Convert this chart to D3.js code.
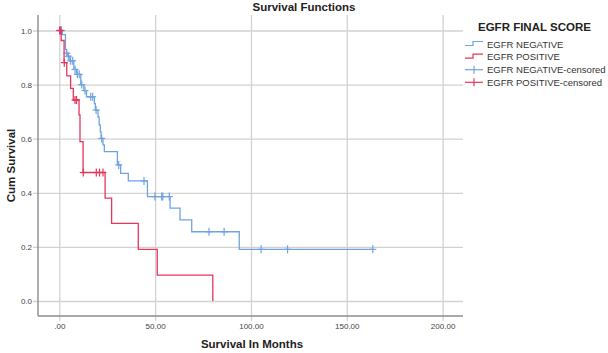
<!DOCTYPE html>
<meta charset="utf-8">
<style>
body { margin: 0; background: #fff; }
svg { display: block; font-family: "Liberation Sans", Arial, sans-serif; }
.axis text { font-size: 8px; fill: #444; }
.axis line { stroke: #d2d2d2; stroke-width: 1.3; }
.axis path { display: none; }
.frame { stroke: #8c8c8c; stroke-width: 1.4; }
.title { font-size: 11.5px; font-weight: bold; fill: #222; }
.legend text { font-size: 9.5px; fill: #333; }
.legend text.title { font-size: 11.5px; fill: #222; }
.curve { fill: none; stroke-width: 1.3; }
.cens { stroke-width: 1.2; }
</style>
<svg class="chart" width="608" height="353"></svg>
<script src="https://d3js.org/d3.v7.min.js"></script>
<script>

// EGFR NEGATIVE: times of each drop (months) and survival after it
var negTimes = [1.6, 3.2, 3.7, 4.3, 5.5, 7.6, 9.0, 11.2, 12.8, 14.2, 18.3, 18.8, 20.2, 20.8,
                21.4, 21.8, 22.8, 23.5, 30.3, 32.0, 36.0, 46.0, 57.8, 63.0, 69.1, 93.9];
var negSurv  = [0.985, 0.93, 0.916, 0.905, 0.888, 0.856, 0.838, 0.80, 0.778, 0.755, 0.73, 0.706, 0.68, 0.65,
                0.625, 0.601, 0.577, 0.552, 0.503, 0.472, 0.444, 0.386, 0.343, 0.30, 0.256, 0.191];
var negCensored = [0.3, 1.0, 3.9, 4.7, 5.9, 7.0, 8.2, 9.4, 10.4, 11.7, 13.4, 16.4, 17.4, 19.2, 22.1,
                   31.0, 44.2, 49.9, 53.4, 54.0, 57.4, 78.1, 86.0, 105.3, 119.1, 163.6];
var negEnd = 163.6;

// EGFR POSITIVE
var posTimes = [1.0, 2.5, 3.9, 5.9, 7.3, 10.3, 10.8, 12.4, 23.9, 27.3, 41.2, 51.1, 80.1];
var posSurv  = [0.963, 0.881, 0.832, 0.786, 0.743, 0.688, 0.589, 0.475, 0.38, 0.287, 0.191, 0.096, 0];
var posCensored = [0.2, 0.8, 2.6, 8.2, 9.0, 12.5, 19.3, 21.0, 22.8];
var posEnd = 80.1;

var xTicks = [0, 50, 100, 150, 200];
var yTicks = [0, 0.2, 0.4, 0.6, 0.8, 1.0];
var legendLabels = ["EGFR NEGATIVE", "EGFR POSITIVE", "EGFR NEGATIVE-censored", "EGFR POSITIVE-censored"];
var colors = {neg: "#6fa3e0", pos: "#e5365c"};

var box = {left: 38, right: 463, top: 15, bottom: 316};

var x = d3.scaleLinear().domain([0, 200]).range([59.3, 442.6]);
var y = d3.scaleLinear().domain([0, 1]).range([301, 30.5]);

var svg = d3.select(".chart");

// axes with grid lines
var gx = svg.append("g")
    .attr("class", "axis")
    .attr("transform", "translate(0," + box.bottom + ")")
    .call(d3.axisBottom(x).tickValues(xTicks).tickSize(-(box.bottom - box.top)).tickPadding(7)
      .tickFormat(function (d) { return d === 0 ? ".00" : d3.format(".2f")(d); }));
gx.selectAll(".tick line").attr("y1", 5);

var gy = svg.append("g")
    .attr("class", "axis")
    .attr("transform", "translate(" + box.left + ",0)")
    .call(d3.axisLeft(y).tickValues(yTicks).tickSize(-(box.right - box.left)).tickPadding(6)
      .tickFormat(d3.format(".1f")));
gy.selectAll(".tick line").attr("x1", -5);

svg.append("line").attr("class", "frame")
    .attr("x1", box.left).attr("x2", box.left).attr("y1", box.top).attr("y2", box.bottom);
svg.append("line").attr("class", "frame")
    .attr("x1", box.left).attr("x2", box.right).attr("y1", box.bottom).attr("y2", box.bottom);

function stepPoints(times, surv, end) {
  var pts = [[0, 1]];
  times.forEach(function (t, i) { pts.push([t, surv[i]]); });
  if (end > times[times.length - 1]) pts.push([end, surv[surv.length - 1]]);
  return pts;
}

function survAt(times, surv, t) {
  var s = 1;
  times.forEach(function (tt, i) { if (tt <= t) s = surv[i]; });
  return s;
}

var line = d3.line()
    .x(function (d) { return x(d[0]); })
    .y(function (d) { return y(d[1]); })
    .curve(d3.curveStepAfter);

var groups = [
  {times: negTimes, surv: negSurv, cens: negCensored, end: negEnd, color: colors.neg},
  {times: posTimes, surv: posSurv, cens: posCensored, end: posEnd, color: colors.pos}
];

groups.forEach(function (g) {
  svg.append("path")
      .attr("class", "curve")
      .attr("stroke", g.color)
      .attr("d", line(stepPoints(g.times, g.surv, g.end)));

  var c = svg.append("g").selectAll("g")
      .data(g.cens)
      .enter().append("g")
      .attr("class", "cens")
      .attr("stroke", g.color)
      .attr("transform", function (t) {
        return "translate(" + x(t) + "," + y(survAt(g.times, g.surv, t)) + ")";
      });
  c.append("line").attr("x1", -3.5).attr("x2", 3.5);
  c.append("line").attr("y1", -4).attr("y2", 4);
});

// titles
svg.append("text").attr("class", "title")
    .attr("x", 304).attr("y", 11)
    .attr("text-anchor", "middle")
    .text("Survival Functions");

svg.append("text").attr("class", "title")
    .attr("x", 252).attr("y", 348)
    .attr("text-anchor", "middle")
    .text("Survival In Months");

svg.append("text").attr("class", "title")
    .attr("transform", "translate(15," + (box.top + box.bottom) / 2 + ") rotate(-90)")
    .attr("text-anchor", "middle")
    .text("Cum Survival");

// legend
var legend = svg.append("g").attr("class", "legend");
legend.append("text").attr("class", "title")
    .attr("x", 478).attr("y", 30.5)
    .text("EGFR FINAL SCORE");

var item = legend.selectAll(".item")
    .data(legendLabels)
    .enter().append("g")
    .attr("class", "item")
    .attr("transform", function (d, i) { return "translate(0," + (44.5 + i * 12.6) + ")"; });

item.append("text")
    .attr("x", 487)
    .attr("dy", "0.35em")
    .text(function (d) { return d; });

item.each(function (d, i) {
  var g = d3.select(this);
  var col = i % 2 === 0 ? colors.neg : colors.pos;
  if (i < 2) {
    g.append("path")
        .attr("fill", "none").attr("stroke", col).attr("stroke-width", 1.2)
        .attr("d", "M465,1H473V-3H483");
  } else {
    g.append("line").attr("stroke", col).attr("stroke-width", 1.2)
        .attr("x1", 465).attr("x2", 483);
    g.append("line").attr("stroke", col).attr("stroke-width", 1.2)
        .attr("x1", 474).attr("x2", 474).attr("y1", -4).attr("y2", 4);
  }
});

</script>
